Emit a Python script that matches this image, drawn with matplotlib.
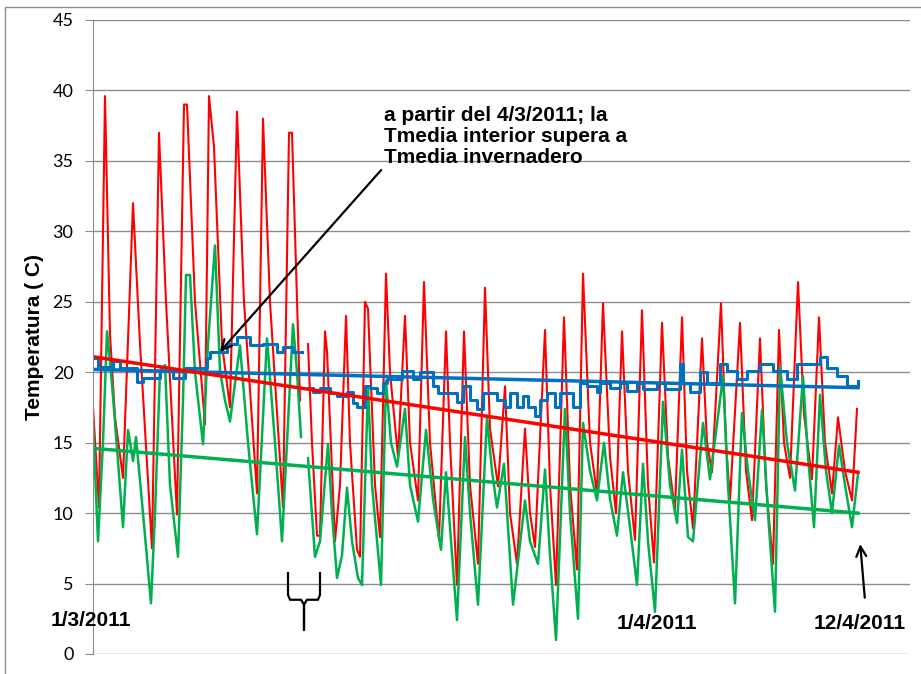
import matplotlib
matplotlib.use("Agg")
import matplotlib.pyplot as plt
from matplotlib.patches import Rectangle

# registro (muestra) -> temperatura
# Invernadero (rojo), primer tramo
red_a_x = [0, 6, 12, 17, 22, 30, 40, 47, 59, 66, 73, 84, 91, 94, 102, 112, 116, 121, 129, 137,
           144, 151, 164, 170, 177, 190, 196, 199, 207]
red_a_y = [17.5, 10.4, 39.6, 22.7, 16.8, 12.5, 32.0, 22.0, 7.5, 37.0, 25.0, 9.9, 39.0, 39.0, 25.0,
           16.3, 39.6, 36.0, 22.0, 17.5, 38.5, 25.0, 11.4, 38.0, 25.0, 10.4, 37.0, 37.0, 18.0]
# Invernadero, segundo tramo
red_b_x = [215, 219, 224, 227, 232, 234, 242, 247, 253, 257, 264, 267, 272, 275, 282, 287, 293, 297,
           305, 312, 317, 325, 331, 337, 346, 353, 357, 364, 371, 377, 385, 392, 397, 405, 412, 417,
           424, 432, 437, 442, 452, 457, 463, 471, 477, 484, 490, 497, 504, 510, 517, 523, 529, 535,
           542, 549, 555, 561, 569, 575, 582, 589, 594, 600, 609, 614, 619, 628, 633, 637, 647, 653,
           659, 667, 673, 680, 686, 691, 697, 705, 711, 719, 726, 732, 739, 745, 752, 759, 764]
red_b_y = [22.0, 15.0, 8.4, 8.4, 22.9, 21.5, 8.0, 12.0, 24.0, 15.0, 7.4, 6.9, 25.0, 24.5, 12.0, 8.3,
           27.0, 20.0, 14.0, 24.0, 15.0, 10.9, 26.4, 15.0, 8.1, 22.9, 15.0, 4.9, 22.9, 12.0, 6.4, 26.0,
           16.0, 11.9, 19.0, 10.0, 6.4, 16.0, 10.0, 7.6, 23.0, 12.0, 4.9, 23.9, 12.0, 6.0, 27.0, 15.0,
           11.4, 24.9, 14.0, 10.0, 22.9, 13.0, 8.1, 24.4, 12.0, 6.5, 23.5, 14.0, 10.2, 23.9, 13.0, 8.9,
           22.4, 15.0, 12.9, 24.9, 15.0, 10.9, 23.5, 13.0, 9.5, 22.4, 12.0, 6.4, 23.0, 15.0, 12.5, 26.4,
           17.0, 12.4, 23.9, 15.0, 11.4, 16.8, 13.0, 10.9, 17.4]

# Exterior (verde)
green_a_x = [0, 5, 10, 14, 18, 22, 30, 35, 40, 43, 50, 58, 62, 67, 72, 77, 85, 90, 93, 97, 102, 110,
             115, 122, 127, 132, 137, 147, 155, 164, 174, 182, 189, 200, 204, 208]
green_a_y = [16.5, 8.0, 15.0, 22.9, 20.0, 16.5, 9.0, 15.9, 13.7, 15.4, 10.0, 3.6, 10.0, 20.1, 20.5,
             12.0, 6.9, 18.0, 26.9, 26.9, 20.0, 14.9, 22.0, 29.0, 20.1, 18.0, 16.5, 21.9, 15.0, 8.5,
             22.4, 15.0, 8.0, 23.4, 20.0, 15.4]
green_b_x = [215, 222, 227, 235, 239, 244, 249, 254, 259, 265, 269, 275, 279, 288, 293, 298, 304, 312,
             317, 325, 333, 340, 348, 353, 357, 364, 372, 377, 385, 394, 399, 404, 411, 415, 420, 432,
             437, 445, 452, 457, 463, 472, 477, 485, 490, 497, 504, 511, 517, 524, 530, 537, 544, 550,
             555, 562, 570, 577, 584, 589, 595, 600, 610, 617, 630, 635, 642, 649, 655, 662, 669, 675,
             682, 687, 694, 702, 710, 715, 721, 727, 733, 739, 746, 752, 759, 765]
green_b_y = [13.9, 6.9, 8.0, 14.9, 10.0, 5.4, 7.0, 11.8, 8.0, 5.4, 4.9, 19.0, 12.0, 4.9, 19.4, 15.0,
             13.3, 17.4, 12.0, 9.4, 15.9, 11.0, 7.4, 12.9, 9.0, 2.4, 15.4, 10.0, 3.5, 16.8, 13.0, 10.4,
             13.5, 9.0, 3.5, 10.9, 8.0, 6.4, 13.1, 7.0, 1.0, 17.4, 10.0, 2.5, 16.4, 13.0, 10.9, 15.0,
             11.0, 8.4, 12.9, 9.0, 4.9, 13.5, 8.0, 3.0, 17.9, 12.0, 9.3, 14.5, 8.3, 8.0, 16.4, 12.4,
             19.7, 12.0, 3.6, 17.1, 13.0, 9.5, 17.3, 10.0, 3.0, 20.4, 15.0, 11.6, 19.7, 14.0, 9.0, 18.4,
             13.0, 10.0, 14.8, 12.0, 9.0, 12.8]

# Interior (azul), valores escalonados
blue_a_x = [0, 5, 20, 27, 44, 50, 67, 80, 92, 114, 117, 134, 144, 157, 170, 184, 190, 200, 209]
blue_a_y = [21.0, 20.4, 20.8, 20.3, 19.3, 19.6, 20.1, 19.6, 20.3, 21.0, 21.4, 22.0, 22.5, 21.9, 22.0,
            21.4, 21.8, 21.4, 21.4]
blue_b_x = [215, 220, 227, 237, 244, 254, 260, 264, 272, 277, 284, 290, 294, 309, 320, 327, 340, 345,
            357, 364, 370, 377, 384, 390, 404, 412, 417, 424, 430, 435, 442, 447, 454, 462, 467, 480,
            487, 494, 504, 507, 517, 527, 534, 544, 550, 564, 572, 587, 590, 597, 607, 614, 627, 634,
            644, 654, 667, 680, 694, 704, 727, 734, 744, 754, 765]
blue_b_y = [18.9, 18.6, 18.9, 18.5, 18.3, 18.6, 17.8, 17.5, 19.0, 18.9, 18.5, 19.2, 19.5, 20.1, 19.5,
            20.0, 19.0, 18.5, 18.5, 17.9, 19.0, 18.0, 17.4, 18.5, 18.0, 17.5, 18.5, 17.5, 18.3, 17.5,
            16.9, 18.0, 18.5, 17.5, 18.5, 17.5, 19.2, 19.0, 18.6, 19.2, 18.9, 19.2, 18.7, 19.2, 18.8,
            19.2, 18.8, 20.6, 19.2, 18.6, 20.0, 19.2, 20.6, 20.1, 19.5, 20.1, 20.6, 20.1, 19.5, 20.6,
            21.1, 20.3, 19.7, 19.0, 19.4]

# líneas de tendencia (inicio, fin)
trend_x = [0, 765]
trend_red = [21.1, 12.9]
trend_blue = [20.2, 18.9]
trend_green = [14.6, 10.0]

RED = "#FF0000"
GREEN = "#00B050"
BLUE = "#0070C0"

fig = plt.figure(figsize=(9.21, 6.74), dpi=100)
ax = fig.add_axes([93 / 921, 1 - 654 / 674, 817 / 921, 634 / 674])

ax.plot(red_a_x, red_a_y, color=RED, lw=1.5)
ax.plot(red_b_x, red_b_y, color=RED, lw=1.5)
ax.plot(green_a_x, green_a_y, color=GREEN, lw=1.8)
ax.plot(green_b_x, green_b_y, color=GREEN, lw=1.8)
ax.plot(blue_a_x, blue_a_y, color=BLUE, lw=2.2, drawstyle="steps-post")
ax.plot(blue_b_x, blue_b_y, color=BLUE, lw=2.2, drawstyle="steps-post")

ax.plot(trend_x, trend_blue, color=BLUE, lw=2.5)
ax.plot(trend_x, trend_green, color=GREEN, lw=2.5)
ax.plot(trend_x, trend_red, color=RED, lw=2.5)

ax.set_xlim(0, 817)
ax.set_ylim(0, 45)
ax.set_yticks(range(0, 46, 5))
ax.set_xticks([])
ax.yaxis.grid(True, color="#8c8c8c", lw=1)
ax.set_axisbelow(True)
for s in ["top", "right", "bottom"]:
    ax.spines[s].set_visible(False)
ax.spines["left"].set_color("#8c8c8c")
ax.tick_params(axis="y", direction="out", length=6, color="#8c8c8c", labelsize=13, pad=8)
for lab in ax.get_yticklabels():
    lab.set_family("Lato")

ax.set_ylabel("Temperatura ( C)", fontsize=15, fontweight="bold", family="Liberation Sans", labelpad=6)

bold = dict(fontsize=15, fontweight="bold", family="Liberation Sans", color="black")
ax.text(291, 38.9, "a partir del 4/3/2011; la\nTmedia interior supera a\nTmedia invernadero",
        ha="left", va="top", linespacing=1.15, **bold)
ax.annotate("", xy=(125, 21.3), xytext=(290, 34.5),
            arrowprops=dict(arrowstyle="->", color="black", lw=1.6, mutation_scale=18))

ax.text(-2, 2.4, "1/3/2011", ha="center", va="center", clip_on=False, **bold)
ax.text(564, 2.2, "1/4/2011", ha="center", va="center", **bold)
ax.text(767, 2.2, "12/4/2011", ha="center", va="center", clip_on=False, **bold)
ax.annotate("", xy=(767, 8.0), xytext=(772, 3.8),
            arrowprops=dict(arrowstyle="->", color="black", lw=1.6, mutation_scale=18))

# llave
brace_x = [195, 195, 197, 208, 211, 211, 211, 214, 225, 227, 227]
brace_y = [5.75, 4.2, 3.85, 3.85, 3.5, 1.7, 3.5, 3.85, 3.85, 4.2, 5.75]
ax.plot(brace_x, brace_y, color="black", lw=1.6, clip_on=False)

fig.patches.append(Rectangle((5 / 921, -0.01), 1.0, 1 - 7 / 674 + 0.01, transform=fig.transFigure,
                             fill=False, edgecolor="#8c8c8c", lw=1))

fig.savefig("out.png", dpi=100)
